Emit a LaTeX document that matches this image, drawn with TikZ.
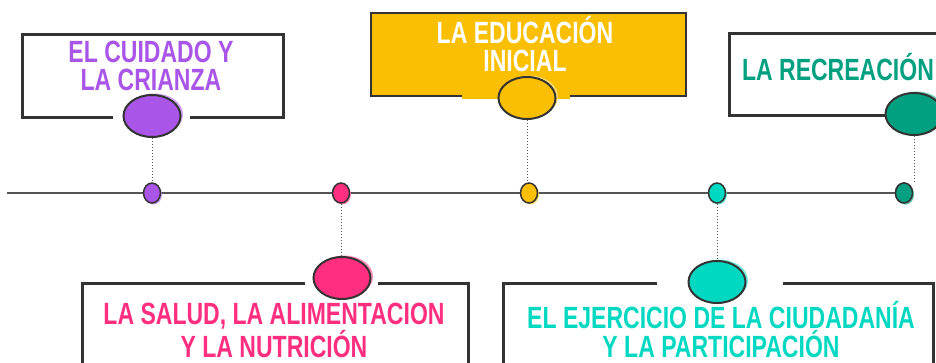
\documentclass[tikz,border=0pt]{standalone}
\usepackage{fontspec}
\newfontfamily\cond[FakeStretch=0.75]{Liberation Sans Bold}
\usetikzlibrary{shapes.geometric,shadows}
\definecolor{cpurple}{HTML}{A855E8}
\definecolor{cpink}{HTML}{FF2E7E}
\definecolor{cyellow}{HTML}{F9BF00}
\definecolor{cturq}{HTML}{00D8C2}
\definecolor{cteal}{HTML}{00A080}
\definecolor{cdark}{HTML}{333333}
\definecolor{cline}{HTML}{555555}
\tikzset{
  bigdot/.style={ellipse, draw=cdark, line width=2pt, minimum width=57pt, minimum height=42pt, inner sep=0pt, fill=#1,
    drop shadow={shadow xshift=2.5pt, shadow yshift=1.5pt, fill=#1!55, opacity=1}},
  smalldot/.style={ellipse, draw=cdark, line width=1.5pt, minimum width=17pt, minimum height=20pt, inner sep=0pt, fill=#1,
    drop shadow={shadow xshift=1.5pt, shadow yshift=-1.5pt, fill=#1!60, opacity=1}},
  boxline/.style={draw=cdark, line width=3pt},
  ttext/.style={font=\cond\fontsize{30.7}{27.5}\selectfont, align=center, inner sep=0pt, anchor=base},
  dotline/.style={draw=cline, line width=1pt, dotted}
}
\begin{document}
\begin{tikzpicture}[x=1pt,y=-1pt]
\useasboundingbox (0,0) rectangle (936,362);
\clip (0,0) rectangle (936,362);
% boxes
\draw[boxline] (113,117) -- (22,117) -- (22,34) -- (283,34) -- (283,117) -- (190,117);
\fill[cyellow] (371,13) rectangle (686,96);
\fill[cyellow] (462,95) rectangle (570,99);
\draw[draw=cdark, line width=1.2pt] (462,96) -- (371,96) -- (371,13) -- (686,13) -- (686,96) -- (570,96);
\draw[boxline] (888,115) -- (729,115) -- (729,33) -- (945,33);
\draw[boxline] (305,283) -- (82,283) -- (82,370);
\draw[boxline] (378,283) -- (468,283) -- (468,370);
\draw[boxline] (657,283) -- (503,283) -- (503,370);
\draw[boxline] (783,283) -- (933,283) -- (933,370);
% texts (base = baseline of last line)
\node[ttext, text=cpurple] (t1) at (151,90) {EL CUIDADO Y\\LA CRIANZA};
\node[ttext, text=white] (t3) at (525,71) {LA EDUCACIÓN\\INICIAL};
\node[ttext, text=cteal] (t5) at (838,80) {LA RECREACIÓN};
\node[ttext, text=cpink] (t2) at (274,357) {LA SALUD, LA ALIMENTACION\\Y LA NUTRICIÓN};
\node[ttext, text=cturq] (t4) at (721,357) {EL EJERCICIO DE LA CIUDADANÍA\\Y LA PARTICIPACIÓN};
% timeline
\coordinate (start) at (7,193);
\node[smalldot=cteal] (d5) at (904,193) {};
\draw[cline, line width=1.5pt] (start) -- (d5.west);
\node[smalldot=cpurple] (d1) at (152,193) {};
\node[smalldot=cpink] (d2) at (341,193) {};
\node[smalldot=cyellow] (d3) at (529,193) {};
\node[smalldot=cturq] (d4) at (717,193) {};
\node[smalldot=cteal] (d5b) at (904,193) {};
% big circles
\node[bigdot=cpurple] (c1) at (152,116) {};
\node[bigdot=cyellow] (c3) at (527,98) {};
\node[bigdot=cteal] (c5) at (914,114) {};
\node[bigdot=cpink] (c2) at (342,278) {};
\node[bigdot=cturq] (c4) at (717,282) {};
% dotted connectors
\draw[dotline] (c1.south) -- (d1.north);
\draw[dotline] (c3.south) -- (c3.south |- d3.north);
\draw[dotline] (c5.south) -- (c5.south |- d5b.north);
\draw[dotline] (d2.south) -- (d2.south |- c2.north);
\draw[dotline] (d4.south) -- (c4.north);
\end{tikzpicture}
\end{document}
